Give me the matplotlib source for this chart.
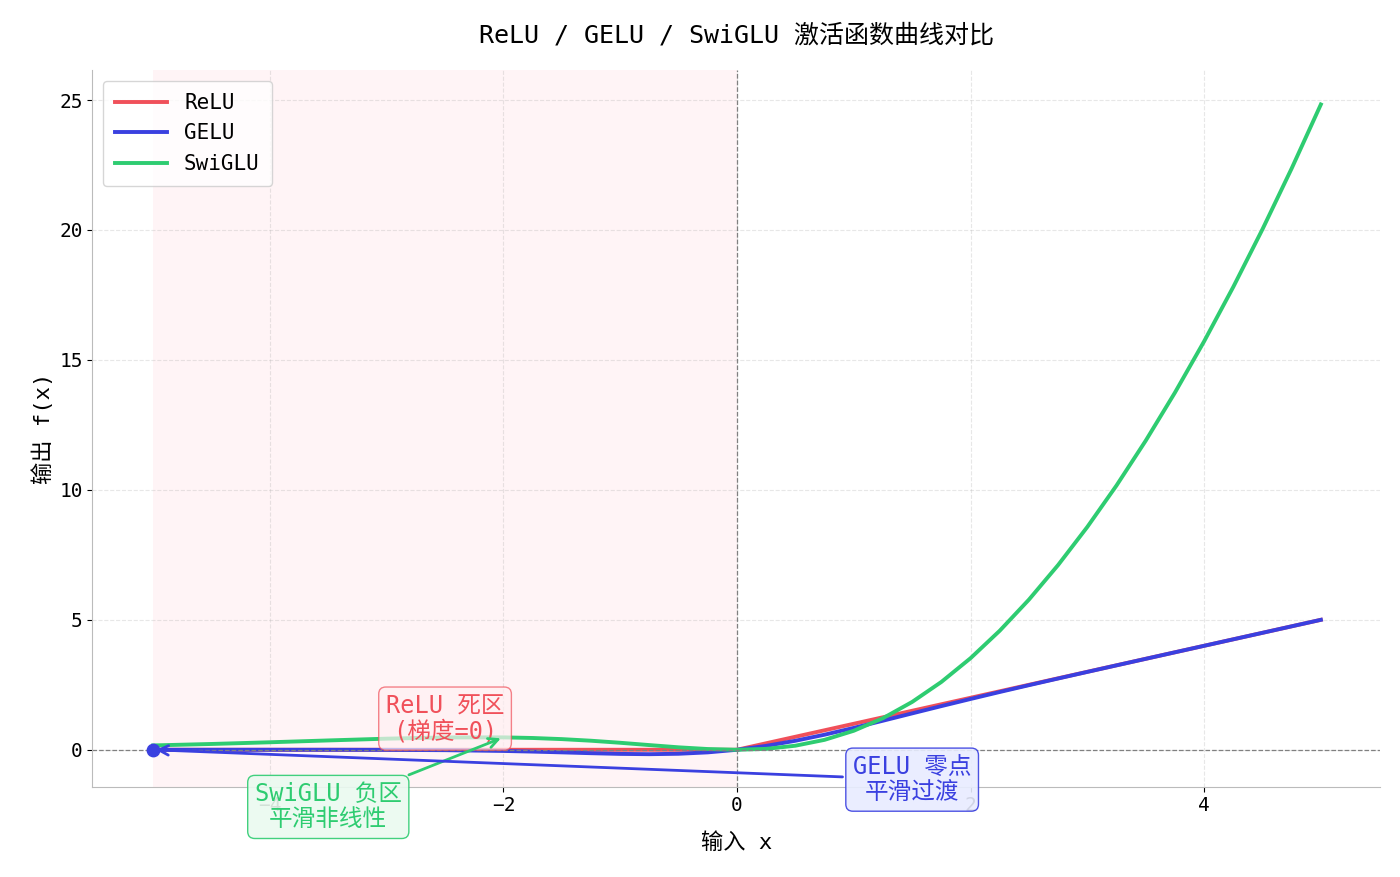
import matplotlib
matplotlib.use("Agg")
import matplotlib.pyplot as plt

plt.rcParams['font.family'] = ['DejaVu Sans Mono', 'Noto Sans CJK SC']
plt.rcParams['axes.unicode_minus'] = True

x = [-5.0, -4.5, -4.0, -3.5, -3.0, -2.5, -2.0, -1.75, -1.5, -1.25, -1.0, -0.75, -0.5, -0.25, 0.0,
     0.25, 0.5, 0.75, 1.0, 1.25, 1.5, 1.75, 2.0, 2.25, 2.5, 2.75, 3.0, 3.25, 3.5, 3.75, 4.0,
     4.25, 4.5, 4.75, 5.0]
relu = [0, 0, 0, 0, 0, 0, 0, 0, 0, 0, 0, 0, 0, 0, 0,
        0.25, 0.5, 0.75, 1.0, 1.25, 1.5, 1.75, 2.0, 2.25, 2.5, 2.75, 3.0, 3.25, 3.5, 3.75, 4.0,
        4.25, 4.5, 4.75, 5.0]
gelu = [0.0, 0.0, -0.0001, -0.0008, -0.004, -0.0155, -0.0455, -0.070, -0.100, -0.132, -0.159, -0.170,
        -0.154, -0.100, 0.0,
        0.150, 0.346, 0.580, 0.841, 1.118, 1.400, 1.680, 1.954, 2.223, 2.485, 2.742, 2.996, 3.248,
        3.499, 3.750, 4.000, 4.250, 4.500, 4.750, 5.000]
swiglu = [0.167, 0.223, 0.288, 0.359, 0.427, 0.474, 0.477, 0.453, 0.410, 0.348, 0.269, 0.180, 0.094,
          0.028, 0.0,
          0.035, 0.156, 0.382, 0.731, 1.215, 1.840, 2.609, 3.523, 4.580, 5.776, 7.108, 8.573, 10.168,
          11.891, 13.739, 15.712, 17.808, 20.027, 22.368, 24.83]

fig, ax = plt.subplots(figsize=(14, 8.77), dpi=100)
fig.subplots_adjust(left=0.066, right=0.986, top=0.92, bottom=0.103)

ax.axvspan(-5, 0, color='#ffe4ea', alpha=0.4, lw=0)
ax.plot(x, relu, color='#f0505a', lw=2.8, label='ReLU')
ax.plot(x, gelu, color='#3a40e0', lw=2.8, label='GELU')
ax.plot(x, swiglu, color='#2ecc71', lw=2.8, label='SwiGLU')
ax.axhline(0, color='gray', ls='--', lw=0.9)
ax.axvline(0, color='gray', ls='--', lw=0.9)
ax.scatter([-5], [0], color='#3a40e0', s=80, zorder=5)

ax.set_xlim(-5.52, 5.51)
ax.set_ylim(-1.42, 26.15)
ax.set_xticks([-4, -2, 0, 2, 4])
ax.set_yticks([0, 5, 10, 15, 20, 25])
ax.tick_params(labelsize=14)
ax.grid(True, ls='--', alpha=0.3)
for s in ['top', 'right']:
    ax.spines[s].set_visible(False)
for s in ['left', 'bottom']:
    ax.spines[s].set_color('#bbbbbb')

ax.set_title('ReLU / GELU / SwiGLU 激活函数曲线对比', fontsize=18, pad=20)
ax.set_xlabel('输入 x', fontsize=16, labelpad=12)
ax.set_ylabel('输出 f(x)', fontsize=16)

ax.text(-2.5, 1.2, 'ReLU 死区\n(梯度=0)', color='#f0505a', fontsize=17, ha='center', va='center',
        linespacing=1.05,
        bbox=dict(boxstyle='round,pad=0.3', fc='#fff0f2', ec='#f0505a', alpha=0.7))
ax.annotate('SwiGLU 负区\n平滑非线性', xy=(-2.0, 0.48), xytext=(-3.5, -2.2),
            color='#2ecc71', fontsize=17, ha='center', va='center', linespacing=1.05,
            annotation_clip=False, zorder=10,
            bbox=dict(boxstyle='round,pad=0.3', fc='#eafaf0', ec='#2ecc71', alpha=0.9),
            arrowprops=dict(arrowstyle='->', color='#2ecc71', lw=2))
ax.annotate('GELU 零点\n平滑过渡', xy=(-5.0, 0.0), xytext=(1.5, -1.15),
            color='#3a40e0', fontsize=17, ha='center', va='center', linespacing=1.05,
            annotation_clip=False, zorder=10,
            bbox=dict(boxstyle='round,pad=0.3', fc='#e8ecff', ec='#3a40e0', alpha=0.9),
            arrowprops=dict(arrowstyle='->', color='#3a40e0', lw=2))

ax.legend(loc='upper left', fontsize=15, handlelength=2.5, borderpad=0.6)
fig.savefig('out.png')
